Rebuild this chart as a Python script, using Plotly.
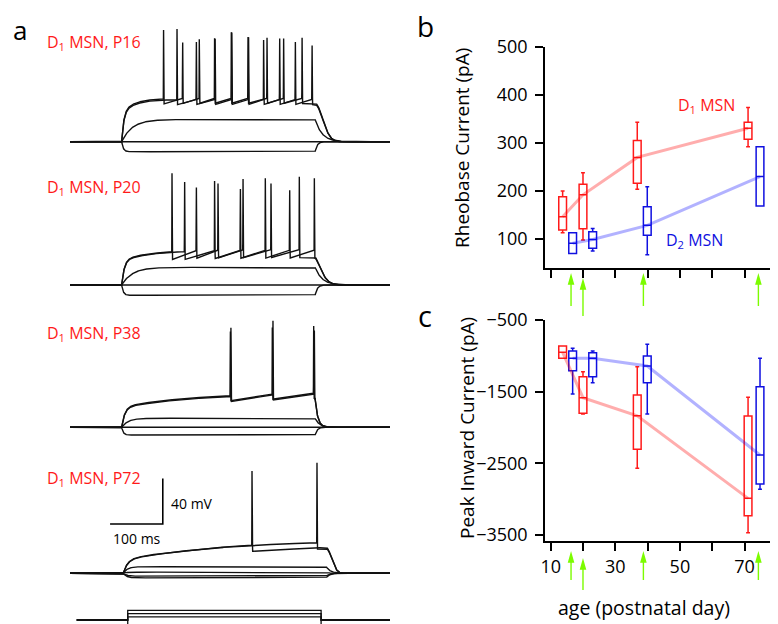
import numpy as np
import plotly.graph_objects as go

W, H = 778, 624
OFF = 8  # page body margin compensation
FW, FH = W - OFF, H - OFF

# ---------------- Panel a: membrane potential (mV) vs time (ms) ----------------
BASE_MV = -80.0
T_MAX_MS = 607.0
rec_labels = ["D<sub>1</sub> MSN, P16", "D<sub>1</sub> MSN, P20",
              "D<sub>1</sub> MSN, P38", "D<sub>1</sub> MSN, P72"]
step_on_ms = [98.0, 98.0, 98.0, 101.0]
step_off_ms = [465.0, 465.0, 465.0, 486.0]

# non-spiking traces: steady voltage during the current step (mV) and charging tau (ms)
passive_mv = [[-88.8, -80.0, -60.5],
              [-89.0, -80.0, -64.5],
              [-86.8, -80.0, -72.1],
              [-84.0, -82.5, -79.0, -74.2]]
passive_tau_ms = [[3, 1, 20], [3, 1, 20], [3, 1, 12], [6, 6, 6, 8]]
passive_off_tau_ms = [[4, 1, 13], [4, 1, 13], [4, 1, 8], [6, 6, 6, 8]]

# spiking traces (two per recording)
supra_v1 = [[-54.0, -55.0], [-58.0, -58.5], [-62.0, -62.7], [-68.0, -68.4]]
supra_v2 = [[-42.0, -43.0], [-49.0, -49.5], [-49.0, -49.7], [-50.0, -50.3]]
supra_tau1 = [4, 5, 6, 8]
supra_tau2 = [25, 60, 150, 200]
supra_ahp = [4.5, 7.0, 4.5, 5.5]
supra_off_tau = [20, 16, 5, 14]
supra_off_pow = [2.0, 1.5, 1.0, 2.0]
spike_times_ms = [
    [[177.0, 213.1, 244.8, 273.8, 305.5, 337.2, 373.2, 404.7, 439.7],
     [202.5, 239.1, 274.8, 306.5, 338.2, 366.8, 397.2, 426.9, 458.6]],
    [[193.0, 239.1, 280.3, 327.7, 380.8, 434.5],
     [216.9, 273.8, 322.6, 370.0, 416.1, 463.0]],
    [[303.6, 383.3, 461.7],
     [304.8, 384.5, 462.9]],
    [[344.8], [468.0]],
]
spike_peaks_mv = [
    [[18.0, 16.5, 15.6, 16.5, 16.0, 15.0, 14.2, 13.6, 14.2],
     [18.9, 17.1, 16.3, 15.8, 14.8, 15.0, 13.6, 13.6, 13.6]],
    [[18.0, 16.5, 15.6, 16.5, 15.6, 15.0],
     [18.0, 18.0, 15.0, 13.6, 13.6, 13.6]],
    [[14.7, 14.1, 12.1],
     [14.0, 13.5, 11.5]],
    [[17.0], [17.0]],
]

# current-step protocol (pA)
prot_start_ms = 12.7
prot_on_ms = 109.5
prot_off_ms = 476.3
prot_steps_pa = [-200, 100, 200, 300]

# scale bar
scale_t0_ms = 76.0
scale_v0_mv = -36.8
scale_len_ms = 100
scale_len_mv = 40

# ---------------- Panels b, c ----------------
age_d1 = [13.7, 20.0, 36.8, 71.1]
age_d2 = [16.8, 23.0, 39.9, 74.8]
arrow_age = [16.3, 20.0, 38.7, 74.3]

rheo_d1_lo = [113, 98, 203.5, 292]
rheo_d1_q1 = [119, 121.5, 216, 308]
rheo_d1_med = [146.5, 192, 270, 330.7]
rheo_d1_q3 = [188, 214, 305, 343]
rheo_d1_hi = [200, 238, 343, 374]
rheo_d2_lo = [70, 75, 67, 169]
rheo_d2_q1 = [70, 80.6, 108, 169]
rheo_d2_med = [91, 99, 128.5, 230]
rheo_d2_q3 = [113, 115, 167, 292]
rheo_d2_hi = [113, 122, 209, 292]

pic_d1_lo = [-1034, -1811, -2568, -3466]
pic_d1_q1 = [-1034, -1802, -2303, -3229]
pic_d1_med = [-950, -1584, -1835, -2987]
pic_d1_q3 = [-862, -1291, -1546, -1839]
pic_d1_hi = [-862, -1221, -1151, -1578]
pic_d2_lo = [-1532, -1374, -1811, -2862]
pic_d2_q1 = [-1207, -1291, -1374, -2787]
pic_d2_med = [-1034, -1034, -1142, -2383]
pic_d2_q3 = [-932, -956, -1002, -1430]
pic_d2_hi = [-895, -932, -839, -1034]

age_ticks = [10, 20, 30, 40, 50, 60, 70, 80]
age_labelled = [10, 30, 50, 70]
rheo_ticks = [100, 200, 300, 400, 500]
pic_ticks = [-500, -1500, -2500, -3500]

# ---------------- build ----------------
t = np.arange(0.0, T_MAX_MS + 1e-9, 0.25)


def membrane(t_on, t_off, v1, tau1, v2=None, tau2=1e9, tau_off=5.0, p_off=1.0,
             spikes=(), peaks=(), ahp=0.0, tau_last=1000.0):
    if v2 is None:
        v2 = v1
    v = np.full_like(t, BASE_MV)
    on = (t >= t_on) & (t < t_off)
    dt = t[on] - t_on
    v[on] = (BASE_MV + (v1 - BASE_MV) * (1 - np.exp(-dt / tau1))
             + (v2 - v1) * (1 - np.exp(-dt / tau2)))
    env = v.copy()
    for k, ts in enumerate(spikes):
        if k + 1 < len(spikes):
            nxt = spikes[k + 1]
            seg = (t >= ts) & (t < nxt)
            frac = (t[seg] - ts) / (nxt - ts)
            v[seg] -= ahp * (1 - frac)
        else:
            seg = (t >= ts) & (t < t_off)
            v[seg] -= ahp * np.exp(-(t[seg] - ts) / tau_last)
    for ts, pk in zip(spikes, peaks):
        up = (t >= ts) & (t < ts + 0.5)
        v[up] = env[up] + (pk - env[up]) * (t[up] - ts) / 0.5
        i_pk = np.searchsorted(t, ts + 0.5)
        i_end = np.searchsorted(t, ts + 1.5)
        trough = v[i_end]
        v[i_pk:i_end] = pk + (trough - pk) * (t[i_pk:i_end] - ts - 0.5) / 1.0
    i_off = np.searchsorted(t, t_off)
    v_off = v[i_off - 1]
    aft = t >= t_off
    v[aft] = BASE_MV + (v_off - BASE_MV) * np.exp(-((t[aft] - t_off) / tau_off) ** p_off)
    return v


fig = go.Figure()
TRACE_LINE = dict(color="#111111", width=1.4)

for r in range(4):
    yax = "y" if r == 0 else f"y{r + 1}"
    for lvl, tau, toff_tau in zip(passive_mv[r], passive_tau_ms[r], passive_off_tau_ms[r]):
        v = membrane(step_on_ms[r], step_off_ms[r], lvl, tau, tau_off=toff_tau)
        fig.add_trace(go.Scatter(x=t, y=v, mode="lines", line=TRACE_LINE,
                                 xaxis="x", yaxis=yax, hoverinfo="skip"))
    for k in range(2):
        v = membrane(step_on_ms[r], step_off_ms[r], supra_v1[r][k], supra_tau1[r],
                     v2=supra_v2[r][k], tau2=supra_tau2[r], tau_off=supra_off_tau[r],
                     p_off=supra_off_pow[r], spikes=spike_times_ms[r][k],
                     peaks=spike_peaks_mv[r][k], ahp=supra_ahp[r])
        fig.add_trace(go.Scatter(x=t, y=v, mode="lines", line=TRACE_LINE,
                                 xaxis="x", yaxis=yax, hoverinfo="skip"))

# scale bar (in P72 axes)
fig.add_trace(go.Scatter(
    x=[scale_t0_ms, scale_t0_ms + scale_len_ms, scale_t0_ms + scale_len_ms],
    y=[scale_v0_mv, scale_v0_mv, scale_v0_mv + scale_len_mv],
    mode="lines", line=dict(color="black", width=1.6), xaxis="x", yaxis="y4",
    hoverinfo="skip"))

# protocol
for cur in prot_steps_pa:
    fig.add_trace(go.Scatter(
        x=[prot_start_ms, prot_on_ms, prot_on_ms, prot_off_ms, prot_off_ms, T_MAX_MS],
        y=[0, 0, cur, cur, 0, 0], mode="lines",
        line=dict(color="#111111", width=1.3), xaxis="x", yaxis="y5",
        hoverinfo="skip"))

RED, BLUE = "#ff1a1a", "#1010e0"
LRED, LBLUE = "rgba(255,0,0,0.32)", "rgba(0,0,255,0.30)"

# panel b
fig.add_trace(go.Scatter(x=age_d1, y=rheo_d1_med, mode="lines", line=dict(color=LRED, width=3),
                         xaxis="x2", yaxis="y6"))
fig.add_trace(go.Scatter(x=age_d2, y=rheo_d2_med, mode="lines", line=dict(color=LBLUE, width=3),
                         xaxis="x2", yaxis="y6"))
for xs, lo, q1, md, q3, hi, col in [
        (age_d1, rheo_d1_lo, rheo_d1_q1, rheo_d1_med, rheo_d1_q3, rheo_d1_hi, RED),
        (age_d2, rheo_d2_lo, rheo_d2_q1, rheo_d2_med, rheo_d2_q3, rheo_d2_hi, BLUE)]:
    fig.add_trace(go.Box(x=xs, q1=q1, median=md, q3=q3, lowerfence=lo, upperfence=hi,
                         width=2.4, whiskerwidth=0.5, fillcolor="white",
                         line=dict(color=col, width=1.5), boxpoints=False,
                         xaxis="x2", yaxis="y6"))

# panel c
fig.add_trace(go.Scatter(x=age_d1, y=pic_d1_med, mode="lines", line=dict(color=LRED, width=3),
                         xaxis="x3", yaxis="y7"))
fig.add_trace(go.Scatter(x=age_d2, y=pic_d2_med, mode="lines", line=dict(color=LBLUE, width=3),
                         xaxis="x3", yaxis="y7"))
for xs, lo, q1, md, q3, hi, col in [
        (age_d1, pic_d1_lo, pic_d1_q1, pic_d1_med, pic_d1_q3, pic_d1_hi, RED),
        (age_d2, pic_d2_lo, pic_d2_q1, pic_d2_med, pic_d2_q3, pic_d2_hi, BLUE)]:
    fig.add_trace(go.Box(x=xs, q1=q1, median=md, q3=q3, lowerfence=lo, upperfence=hi,
                         width=2.4, whiskerwidth=0.5, fillcolor="white",
                         line=dict(color=col, width=1.5), boxpoints=False,
                         xaxis="x3", yaxis="y7"))

# ---------------- layout ----------------
def fy(px):
    return 1 - (px - OFF) / FH


def fx(px):
    return (px - OFF) / FW


MV_PX = 1.14
V_RANGE = [-95.0, 25.0]
rec_baseline_px = [141.7, 285.0, 427.3, 573.3]

layout = dict(width=FW, height=FH, margin=dict(l=0, r=0, t=0, b=0, autoexpand=False),
              paper_bgcolor="white", plot_bgcolor="rgba(0,0,0,0)", showlegend=False,
              boxmode="overlay",
              font=dict(family="Open Sans", color="black"))
layout["xaxis"] = dict(domain=[fx(70), fx(390)], range=[0, T_MAX_MS], visible=False,
                       anchor="y", automargin=False)
for r, b in enumerate(rec_baseline_px):
    bottom = b + (BASE_MV - V_RANGE[0]) * MV_PX
    top = bottom - (V_RANGE[1] - V_RANGE[0]) * MV_PX
    key = "yaxis" if r == 0 else f"yaxis{r + 1}"
    layout[key] = dict(domain=[max(0, fy(bottom)), min(1, fy(top))], range=V_RANGE,
                       visible=False, anchor="x", automargin=False)
layout["yaxis5"] = dict(domain=[0, fy(600)], range=[-125, 625], visible=False,
                        anchor="x", automargin=False)

AX = dict(showline=True, linecolor="black", linewidth=1.5, ticks="outside", ticklen=8,
          tickwidth=1.5, tickcolor="black", showgrid=False, zeroline=False,
          automargin=False, tickfont=dict(family="Open Sans", size=18, color="black"))
MINOR = dict(ticks="outside", ticklen=8, tickwidth=1.5, tickcolor="black", showgrid=False)
AGE_RANGE = [8.24, 80.37]
layout["xaxis2"] = dict(AX, domain=[fx(545), 1], range=AGE_RANGE, tickvals=age_ticks,
                        showticklabels=False, anchor="y6")
layout["yaxis6"] = dict(AX, domain=[fy(268), fy(47)], range=[39.6, 500], tickvals=rheo_ticks,
                        anchor="x2", ticklabelstandoff=4)
layout["xaxis3"] = dict(AX, domain=[fx(545), 1], range=AGE_RANGE, tickvals=age_labelled,
                        minor=dict(MINOR, tickvals=age_ticks), anchor="y7",
                        ticklabelstandoff=1)
layout["yaxis7"] = dict(AX, domain=[fy(541), fy(320)], range=[-3582, -500], tickvals=pic_ticks,
                        anchor="x3", ticklabelstandoff=4)

ann = []


def text(s, x, y, size, color="black", xanchor="center", angle=0):
    ann.append(dict(text=s, x=fx(x), y=fy(y), xref="paper", yref="paper", showarrow=False,
                    xanchor=xanchor, yanchor="middle", textangle=angle,
                    font=dict(family="Open Sans", size=size, color=color)))


text("a", 20, 30, 26)
text("b", 425, 26, 28)
text("c", 425, 315, 29)
label_y_px = [43, 187, 333, 478]
for lab, yy in zip(rec_labels, label_y_px):
    text(lab, 45, yy, 16, RED, xanchor="left")
text("40 mV", 169, 503, 14, xanchor="left")
text("100 ms", 137, 538, 14)
text("D<sub>1</sub> MSN", 676, 105, 16, RED, xanchor="left")
text("D<sub>2</sub> MSN", 664, 240, 16, BLUE, xanchor="left")
text("Rheobase Current (pA)", 462, 148, 19, angle=-90)
text("Peak Inward Current (pA)", 467, 428, 19, angle=-90)
text("age (postnatal day)", 644, 607, 19.5)
layout["annotations"] = ann

# green arrows
GREEN = "#7CFC00"


def arrow_path(length):
    hw, hh, sw = 3.3, 11.7, 0.7
    return (f"M 0 0 L {hw} {-hh} L {sw} {-hh} L {sw} {-length} L {-sw} {-length} "
            f"L {-sw} {-hh} L {-hw} {-hh} Z")


shapes = []
b_tip_px = [273, 278, 273, 273]
b_len_px = [33, 38, 33, 33]
c_tip_px = [551, 558, 551, 551]
c_len_px = [29, 32, 29, 29]
for xref, tips, lens in [("x2", b_tip_px, b_len_px), ("x3", c_tip_px, c_len_px)]:
    for a, tp, ln in zip(arrow_age, tips, lens):
        shapes.append(dict(type="path", xref=xref, yref="paper", xsizemode="pixel",
                           ysizemode="pixel", xanchor=a, yanchor=fy(tp),
                           path=arrow_path(ln), fillcolor=GREEN, line=dict(width=0)))
layout["shapes"] = shapes

fig.update_layout(**layout)
fig.write_html("out.html")
